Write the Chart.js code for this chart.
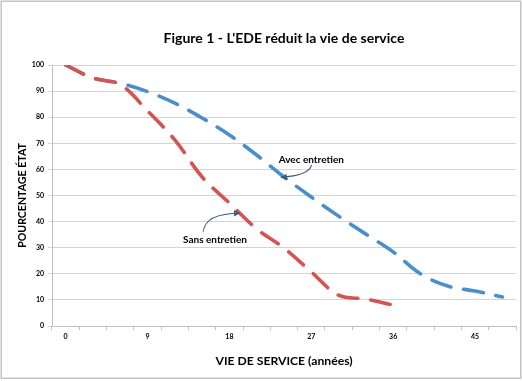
<!DOCTYPE html>
<html>
<head>
<meta charset="utf-8">
<script src="https://cdn.jsdelivr.net/npm/chart.js@4"></script>
<style>
  html, body { margin: 0; padding: 0; background: #ffffff; }
  #wrap { width: 522px; height: 381px; position: relative; }
</style>
</head>
<body>
<div id="wrap"><canvas id="c" width="522" height="381"></canvas></div>
<script>
// ---- data ----
const categories = ['0','3','6','9','12','15','18','21','24','27','30','33','36','39','42','45','48'];
const avecEntretien = [100, 95, 93, 89.8, 85.4, 79.7, 73.2, 65.5, 57.1, 49.4, 42.1, 35.2, 28.4, 20, 15.3, 13.4, 11.1];
const sansEntretien = [100, 95, 92.5, 82.4, 71.3, 57.1, 47.1, 37.2, 29.9, 20.7, 11.8, 10.3, 8];
const yTicks = [0, 10, 20, 30, 40, 50, 60, 70, 80, 90, 100];
const labelEvery = 3;
const titleText = "Figure 1 - L'EDE réduit la vie de service";
const xTitle = 'VIE DE SERVICE (années)';
const yTitle = 'POURCENTAGE ÉTAT';
// annotations in data units: [category index, value]
const annotations = [
  { text: 'Avec entretien', at: [9.0, 63.6], from: [9.01, 61.7], ctrl: [8.92, 57.5], to: [7.88, 57.0] },
  { text: 'Sans entretien', at: [5.47, 33.0], from: [5.04, 36.1], ctrl: [5.11, 43.2], to: [6.39, 43.2] }
];

const FONT = 'Lato, "Open Sans", "Noto Sans", sans-serif';
const RED = '#D25552';
const BLUE = '#4A8FC9';

const borderPlugin = {
  id: 'frame',
  beforeDraw(chart) {
    const ctx = chart.ctx;
    ctx.save();
    ctx.fillStyle = '#ffffff';
    ctx.fillRect(0, 0, chart.width, chart.height);
    ctx.strokeStyle = '#c4c4c4';
    ctx.lineWidth = 1.5;
    ctx.strokeRect(1.25, 1.25, chart.width - 2.5, chart.height - 4);
    ctx.restore();
  }
};

const annotPlugin = {
  id: 'annots',
  afterDatasetsDraw(chart) {
    const ctx = chart.ctx;
    const xs = chart.scales.x, ys = chart.scales.y;
    const P = (p) => [xs.getPixelForValue(p[0]), ys.getPixelForValue(p[1])];
    ctx.save();
    annotations.forEach(a => {
      const [tx, ty] = P(a.at);
      ctx.font = 'bold 10px ' + FONT;
      ctx.fillStyle = '#000000';
      ctx.textAlign = 'center';
      ctx.textBaseline = 'middle';
      ctx.fillText(a.text, tx, ty);
      const [fx, fy] = P(a.from), [cx, cy] = P(a.ctrl), [ex, ey] = P(a.to);
      ctx.strokeStyle = '#3A5F82';
      ctx.fillStyle = '#3A5F82';
      ctx.lineWidth = 1.1;
      ctx.beginPath();
      ctx.moveTo(fx, fy);
      ctx.quadraticCurveTo(cx, cy, ex, ey);
      ctx.stroke();
      const ang = Math.atan2(ey - cy, ex - cx);
      const L = 6, W = 3.2;
      ctx.beginPath();
      ctx.moveTo(ex, ey);
      ctx.lineTo(ex - L * Math.cos(ang) + W * Math.sin(ang), ey - L * Math.sin(ang) - W * Math.cos(ang));
      ctx.lineTo(ex - L * Math.cos(ang) - W * Math.sin(ang), ey - L * Math.sin(ang) + W * Math.cos(ang));
      ctx.closePath();
      ctx.fill();
    });
    ctx.restore();
  }
};

new Chart(document.getElementById('c'), {
  type: 'line',
  data: {
    labels: categories,
    datasets: [
      { label: 'Avec entretien', data: avecEntretien, borderColor: BLUE, borderWidth: 3.6, order: 1,
        borderDash: [20, 13], borderCapStyle: 'round', pointRadius: 0, tension: 0.35, fill: false },
      { label: 'Sans entretien', data: sansEntretien, borderColor: RED, borderWidth: 3.6, order: 0,
        borderDash: [20, 13], borderCapStyle: 'round', pointRadius: 0, tension: 0.35, fill: false }
    ]
  },
  options: {
    responsive: false,
    animation: false,
    layout: { padding: { left: 0, right: 6, top: 0, bottom: 0 } },
    plugins: {
      legend: { display: false },
      tooltip: { enabled: false },
      title: {
        display: true, text: titleText, fullSize: false, color: '#000000',
        font: { family: FONT, size: 14, weight: 'bold', lineHeight: 1.2 },
        padding: { top: 29.6, bottom: 18.6 }
      }
    },
    scales: {
      x: {
        type: 'category', offset: true,
        afterFit(s) { s.height = 55; },
        grid: { display: true, drawOnChartArea: false, drawTicks: true, tickLength: 4, offset: true, color: '#bfbfbf' },
        border: { display: true, color: '#bfbfbf', width: 1 },
        ticks: {
          autoSkip: false, maxRotation: 0, padding: 3, color: '#000000',
          font: { family: FONT, size: 7, weight: 'bold' },
          callback(v, i) { return i % labelEvery === 0 ? categories[i] : ''; }
        },
        title: { display: true, text: xTitle, color: '#000000',
          font: { family: FONT, size: 12.2, weight: 'bold', lineHeight: 1.2 }, padding: { top: 0, bottom: 12.5 } }
      },
      y: {
        min: 0, max: 100,
        afterFit(s) { s.width = 52; },
        afterBuildTicks(s) { s.ticks = yTicks.map(v => ({ value: v })); },
        grid: { color: '#d4d4d4', lineWidth: 1, drawTicks: true, tickLength: 4 },
        border: { display: true, color: '#bfbfbf', width: 1 },
        ticks: { padding: 4, color: '#000000', font: { family: FONT, size: 7, weight: 'bold' } },
        title: { display: true, text: yTitle, color: '#000000',
          font: { family: FONT, size: 10.6, weight: 'bold', lineHeight: 1.2 }, padding: { top: 16, bottom: 0 } }
      }
    }
  },
  plugins: [borderPlugin, annotPlugin]
});
</script>
</body>
</html>
